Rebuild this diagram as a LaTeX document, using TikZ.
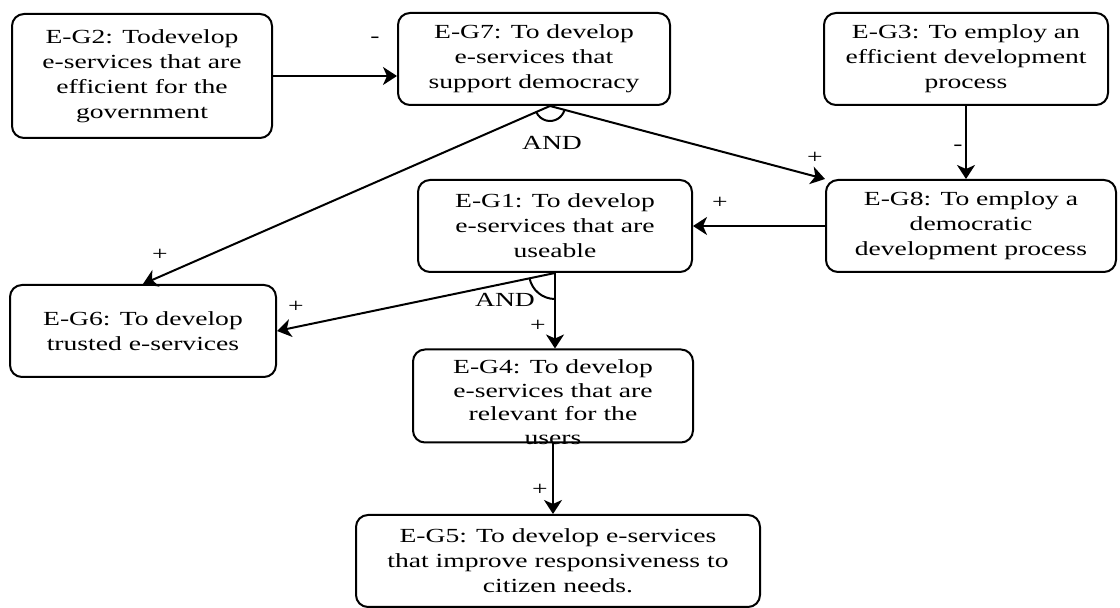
\documentclass[tikz,border=0pt]{standalone}
\usepackage{fontspec}
\setmainfont{Liberation Serif}[FakeStretch=1.38]
\usepackage{tikz}
\usetikzlibrary{arrows.meta}

\begin{document}
\begin{tikzpicture}[
x=0.5pt, y=-0.5pt,
goal/.style={draw, line width=1pt, rounded corners=6pt, align=center, inner sep=0pt, font=\fontsize{10}{12.5}\selectfont, minimum height=46pt},
arrow/.style={-{Stealth[length=7pt,width=9pt,inset=2pt]}, line width=1pt},
lbl/.style={font=\fontsize{10}{13}\selectfont, inner sep=1pt}
]
\useasboundingbox (0,0) rectangle (1120,608);
\node[goal, minimum width=130pt, minimum height=62pt] (g2) at (142,76) {E-G2: Todevelop\\e-services that are\\efficient for the\\government};
\node[goal, minimum width=136pt] (g7) at (534,59) {E-G7: To develop\\e-services that\\support democracy};
\node[goal, minimum width=142pt] (g3) at (966,59) {E-G3: To employ an\\efficient development\\process};
\node[goal, minimum width=145pt] (g8) at (971,226) {E-G8: To employ a\\democratic\\development process};
\node[goal, minimum width=137pt] (g1) at (555,226) {E-G1: To develop\\e-services that are\\useable};
\node[goal, minimum width=133pt] (g6) at (143,331) {E-G6: To develop\\trusted e-services};
\node[goal, minimum width=140pt, minimum height=46.5pt, label={[align=center, inner sep=0pt, font=\fontsize{10}{11.8}\selectfont, yshift=-3pt]center:E-G4: To develop\\e-services that are\\relevant for the\\users}] (g4) at (553,396) {};
\node[goal, minimum width=202pt] (g5) at (558,561) {E-G5: To develop e-services\\that improve responsiveness to\\citizen needs.};
\coordinate (j7) at ([xshift=8pt]g7.south);
\draw[arrow] (g2.east) -- (g2.east -| g7.west);
\draw[arrow] (j7) -- (g6.north);
\draw[arrow] (j7) -- (g8.north west);
\draw[line width=1pt] (j7) ++(15:15) arc[start angle=15, end angle=156, radius=15];
\draw[arrow] (g3.south) -- (g3.south |- g8.north);
\draw[arrow] (g8.west) -- (g1.east);
\draw[arrow] (g1.south) -- (g6.east);
\draw[arrow] (g1.south) -- (g1.south |- g4.north);
\draw[line width=1pt] (g1.south) ++(90:26) arc[start angle=90, end angle=168, radius=26];
\draw[arrow] (g4.south) -- (g4.south |- g5.north);
\node[lbl] (s1) at (375,40) {-};
\node[lbl] (s2) at (160,255) {+};
\node[lbl] (s3) at (552,143) {AND};
\node[lbl] (s4) at (815,158) {+};
\node[lbl] (s5) at (958,148) {-};
\node[lbl] (s6) at (720,203) {+};
\node[lbl] (s7) at (505,300) {AND};
\node[lbl] (s8) at (296,307) {+};
\node[lbl] (s9) at (538,326) {+};
\node[lbl] (s10) at (540,490) {+};
\end{tikzpicture}
\end{document}
